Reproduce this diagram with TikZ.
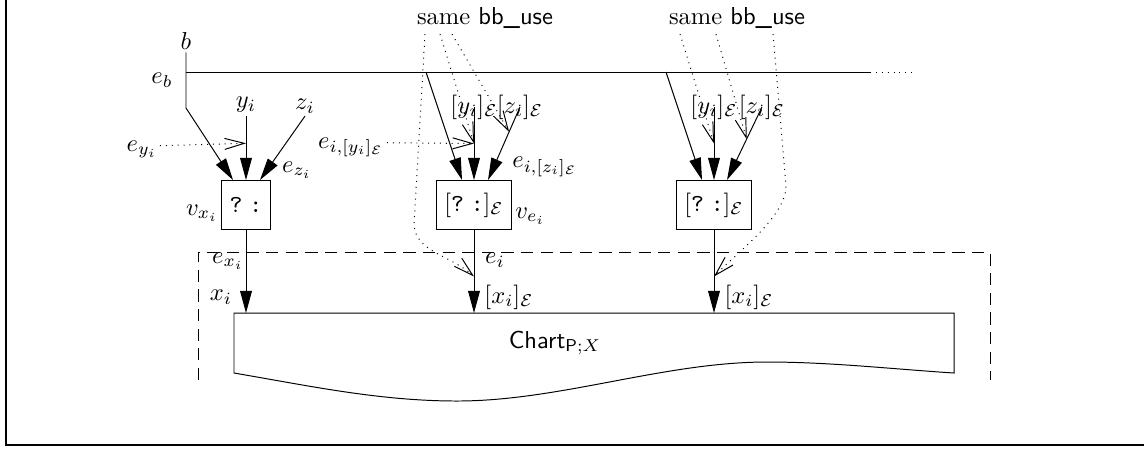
\documentclass[tikz,border=0pt]{standalone}
\usepackage{amsmath,amsfonts}
\usetikzlibrary{arrows.meta,calc}

\begin{document}
\begin{tikzpicture}[x=0.408pt,y=-0.408pt,
  qbox/.style={draw,shape=rectangle,minimum height=20pt},
  lbl/.style={inner sep=1pt},
  arr/.style={-{Triangle[length=9pt,width=4.8pt]}},
  dotarr/.style={dotted,-{Straight Barb[length=8pt,width=4.5pt]}}]
\useasboundingbox (0,0) rectangle (1144,450);
\draw[line width=1pt] (6,0) -- (6,445) -- (1144,445);

% the three boxes
\node[qbox] (Q1) at (246,205) {$\texttt{?}\;\texttt{:}$};
\node[qbox] (Q2) at (474,205) {$[\texttt{?}\;\texttt{:}]_{\mathcal{E}}$};
\node[qbox] (Q3) at (714,205) {$[\texttt{?}\;\texttt{:}]_{\mathcal{E}}$};

% chart
\coordinate (C1) at (234,313);
\coordinate (C2) at (954,313);
\coordinate (C3) at (954,373);
\coordinate (C4) at (234,373);
\draw (C1) -- (C2) -- (C3) .. controls (892,369) and (830,362) .. (767,362)
  .. controls (664,362) and (560,401) .. (457,401)
  .. controls (380,401) and (310,386) .. (C4) -- cycle;
\node (C) at (555,343) {$\textsf{Chart}_{\textsf{P};X}$};
\draw[dash pattern=on 5pt off 3pt] (198,380) -- (198,252) -- (990,252) -- (990,380);

% b and the edge e_b
\node[lbl] (b) at (186,41) {$b$};
\node (Eb) at (162,80) {$e_b$};
\coordinate (Hb) at (186,72);
\coordinate (Bk) at (186,108);
\coordinate (H2) at (426,72);
\coordinate (H3) at (666,72);
\coordinate (Hc) at (870,72);
\coordinate (Hd) at (913,72);
\draw (Hb) -- (Hc);
\draw[dotted] (Hc) -- (Hd);

% first column
\node[lbl] (Y1) at (246,105) {$y_i$};
\node[lbl] (Z1) at (305,106) {$z_i$};
\node[anchor=base east,inner sep=1pt] (Ey) at (160,151) {$e_{y_i}$};
\node (Ez) at (297,170) {$e_{z_i}$};
\node[anchor=base east,inner sep=1pt] (Vx) at (221,215) {$v_{x_i}$};
\node (Ex) at (228,261) {$e_{x_i}$};
\node (X1) at (221,297) {$x_i$};
\coordinate (A1) at (Q1.south |- C1);
\coordinate (T1) at ($(Y1.south)!0.43!(Q1.north)$);
\draw[arr] (b.south) -- (Bk) -- ($(Q1.north)+(-13,0)$);
\draw[arr] (Y1.south) -- (Q1.north);
\draw[arr] (Z1.south) -- ($(Q1.north)+(14,0)$);
\draw[dotarr] (Ey.mid east) -- (T1);
\draw[arr] (Q1.south) -- (A1);

% second column
\node (S2) at (485,18) {same \textsf{bb\_use}};
\node[lbl] (Y2) at (474,107) {$[y_i]_{\mathcal{E}}$};
\node[lbl] (Z2) at (520,107) {$[z_i]_{\mathcal{E}}$};
\node[anchor=base east,inner sep=1pt] (Eiy) at (387,148) {$e_{i,[y_i]_{\mathcal{E}}}$};
\node (Eiz) at (545,167) {$e_{i,[z_i]_{\mathcal{E}}}$};
\node[anchor=base west,inner sep=1pt] (Ve) at (Q2.east |- 0,218) {$v_{e_i}$};
\node (Ei) at (495,260) {$e_i$};
\node (X2) at (509,297) {$[x_i]_{\mathcal{E}}$};
\coordinate (I2) at ($(Q2.north)+(14,0)$);
\coordinate (A2) at (Q2.south |- C1);
\coordinate (T2y) at ($(Y2.center)!0.5!(Q2.north)$);
\coordinate (T2z) at ($(Z2.center)!0.34!(I2)$);
\coordinate (T2x) at ($(Q2.south)!0.56!(A2)$);
\draw[arr] (H2) -- ($(Q2.north)+(-12,0)$);
\draw[arr] (Y2.center) -- (Q2.north);
\draw[arr] (Z2.center) -- (I2);
\draw[arr] (Q2.south) -- (A2);
\draw[dotarr] (Eiy.mid east) -- (T2y);
\draw[dotarr] ($(S2.south)+(-45,-3)$) -- (T2y);
\draw[dotarr] ($(S2.south)+(-33,-3)$) -- (T2z);
\draw[dotarr] ($(S2.south)+(-60,-3)$) -- (414,225) .. controls (416,252) and (450,255) .. (T2x);

% third column
\node (S3) at (737,18) {same \textsf{bb\_use}};
\node[lbl] (Y3) at (714,107) {$[y_i]_{\mathcal{E}}$};
\node[lbl] (Z3) at (762,107) {$[z_i]_{\mathcal{E}}$};
\node (X3) at (749,297) {$[x_i]_{\mathcal{E}}$};
\coordinate (I3) at ($(Q3.north)+(13,0)$);
\coordinate (A3) at (Q3.south |- C1);
\coordinate (T3y) at ($(Y3.center)!0.5!(Q3.north)$);
\coordinate (T3z) at ($(Z3.center)!0.44!(I3)$);
\coordinate (T3x) at ($(Q3.south)!0.56!(A3)$);
\draw[arr] (H3) -- ($(Q3.north)+(-12,0)$);
\draw[arr] (Y3.center) -- (Q3.north);
\draw[arr] (Z3.center) -- (I3);
\draw[arr] (Q3.south) -- (A3);
\draw[dotarr] ($(S3.south)+(-57,-3)$) -- (T3y);
\draw[dotarr] ($(S3.south)+(-21,-3)$) -- (T3z);
\draw[dotarr] ($(S3.south)+(36,-3)$) -- (786,185) .. controls (787,215) and (740,250) .. (T3x);
\end{tikzpicture}
\end{document}
